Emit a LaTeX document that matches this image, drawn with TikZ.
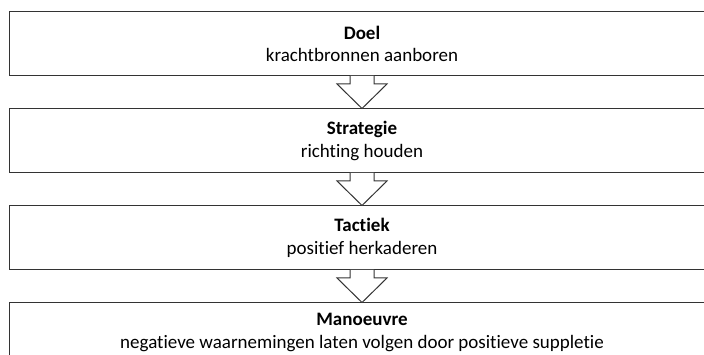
\documentclass[tikz,border=0pt]{standalone}
\usepackage{fontspec}
\setmainfont{Carlito}[Ligatures=NoCommon]
\usetikzlibrary{positioning,calc}
\tikzset{level/.style = {draw=black!80, line width=1pt,
  minimum width=706pt, minimum height=63.5pt, inner sep=0pt,
  align=center, font=\fontsize{19}{22.5}\selectfont}}
\tikzset{hollow/.style = {draw=black!80, line width=1pt, line join=miter}}
% open block arrow from the bottom of #1 to the top of #2
\newcommand\levelarrow[2]{%
  \fill[white] ($(#1.south)+(-12pt,0)$) -- ++(0,-8pt) -- ++(-13pt,0)
    -- (#2.north) -- ($(#1.south)+(25pt,-8pt)$) -- ++(-13pt,0)
    -- ($(#1.south)+(12pt,0)$) -- cycle;
  \draw[hollow] ($(#1.south)+(-12pt,0)$) -- ++(0,-8pt) -- ++(-13pt,0)
    -- (#2.north) -- ($(#1.south)+(25pt,-8pt)$) -- ++(-13pt,0)
    -- ($(#1.south)+(12pt,0)$);}

\begin{document}
\begin{tikzpicture}[x=1pt, y=1pt, node distance=32.5pt]
  \useasboundingbox (0,0) rectangle (704,355);
  \clip (0,0) rectangle (704,355);
  \node[level] (doel) at (362,311.25)
    {\textbf{Doel}\\krachtbronnen aanboren};
  \node[level, below=of doel] (strategie)
    {\textbf{Strategie}\\richting houden};
  \node[level, below=of strategie] (tactiek)
    {\textbf{Tactiek}\\positief herkaderen};
  \node[level, minimum height=59pt, below=of tactiek] (manoeuvre)
    {\textbf{Manoeuvre}\\negatieve waarnemingen laten volgen door positieve suppletie};
  \levelarrow{doel}{strategie}
  \levelarrow{strategie}{tactiek}
  \levelarrow{tactiek}{manoeuvre}
\end{tikzpicture}
\end{document}
